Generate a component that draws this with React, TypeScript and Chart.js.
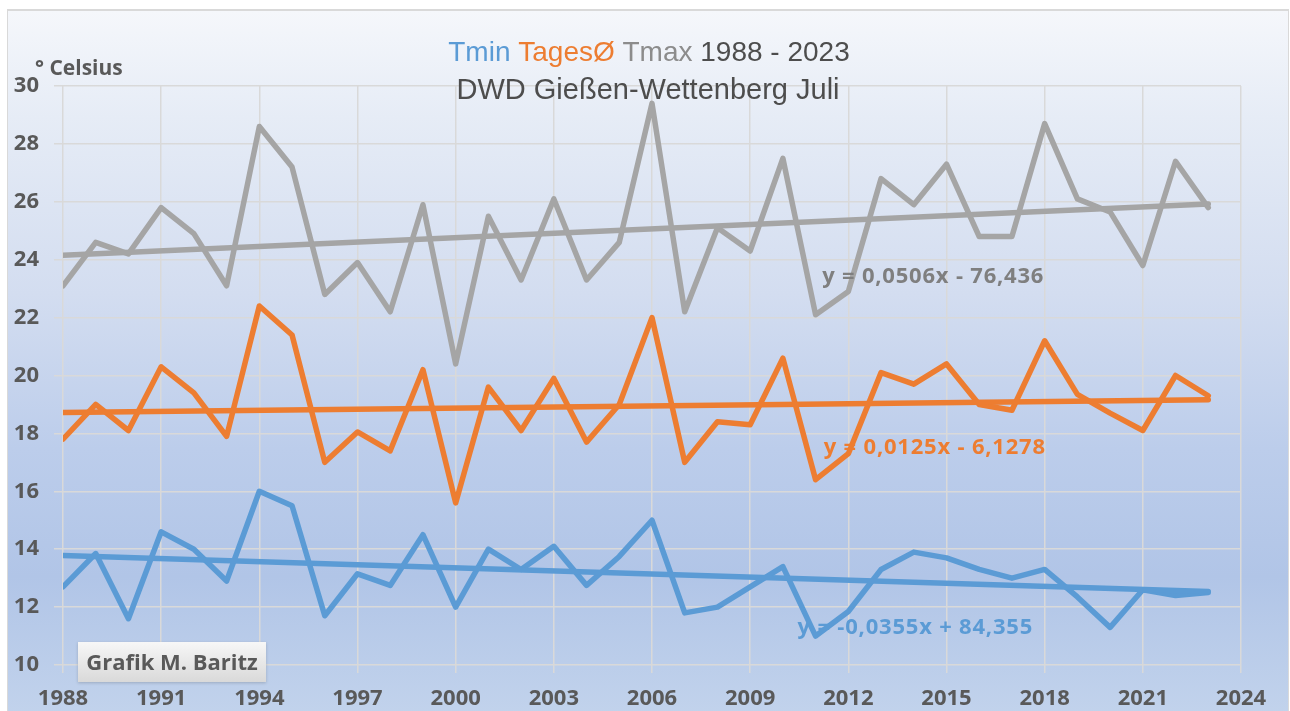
import React, { useEffect, useRef } from "react";
import { Chart, registerables } from "chart.js";

Chart.register(...registerables);

// ---- data ----
const years = [
  1988, 1989, 1990, 1991, 1992, 1993, 1994, 1995, 1996, 1997, 1998, 1999,
  2000, 2001, 2002, 2003, 2004, 2005, 2006, 2007, 2008, 2009, 2010, 2011,
  2012, 2013, 2014, 2015, 2016, 2017, 2018, 2019, 2020, 2021, 2022, 2023,
];
const tmax = [
  23.1, 24.6, 24.2, 25.8, 24.9, 23.1, 28.6, 27.2, 22.8, 23.9, 22.2, 25.9,
  20.4, 25.5, 23.3, 26.1, 23.3, 24.6, 29.4, 22.2, 25.1, 24.3, 27.5, 22.1,
  22.9, 26.8, 25.9, 27.3, 24.8, 24.8, 28.7, 26.1, 25.65, 23.8, 27.4, 25.8,
];
const tages = [
  17.8, 19.0, 18.1, 20.3, 19.4, 17.9, 22.4, 21.4, 17.0, 18.05, 17.4, 20.2,
  15.6, 19.6, 18.1, 19.9, 17.7, 19.0, 22.0, 17.0, 18.4, 18.3, 20.6, 16.4,
  17.3, 20.1, 19.7, 20.4, 19.0, 18.8, 21.2, 19.35, 18.7, 18.1, 20.0, 19.3,
];
const tmin = [
  12.7, 13.85, 11.6, 14.6, 14.0, 12.9, 16.0, 15.5, 11.7, 13.15, 12.75, 14.5,
  12.0, 14.0, 13.3, 14.1, 12.75, 13.75, 15.0, 11.8, 12.0, 12.7, 13.4, 11.0,
  11.85, 13.3, 13.9, 13.7, 13.3, 13.0, 13.3, 12.35, 11.3, 12.6, 12.4, 12.5,
];
// linear trend coefficients [slope, intercept] as printed in the chart
const trendTmax = [0.0506, -76.436];
const trendTages = [0.0125, -6.1278];
const trendTmin = [-0.0355, 84.355];
const trendLabels = [
  "y = 0,0506x - 76,436",
  "y = 0,0125x - 6,1278",
  "y = -0,0355x + 84,355",
];
const xTicks = [1988, 1991, 1994, 1997, 2000, 2003, 2006, 2009, 2012, 2015, 2018, 2021, 2024];
const yTicks = [10, 12, 14, 16, 18, 20, 22, 24, 26, 28, 30];
const titleWords = ["Tmin", "TagesØ", "Tmax", "1988 - 2023"];
const subtitle = "DWD Gießen-Wettenberg Juli";
const yAxisTitle = "° Celsius";
const credit = "Grafik M. Baritz";

const BLUE = "#5b9bd5";
const ORANGE = "#ed7d31";
const GRAY = "#a5a5a5";
const TEXT = "#595959";

const toPoints = (vals: number[]) => vals.map((v, i) => ({ x: years[i], y: v }));
const trendPoints = (c: number[]) => {
  const a = years[0];
  const b = years[years.length - 1];
  return [
    { x: a, y: c[0] * a + c[1] },
    { x: b, y: c[0] * b + c[1] },
  ];
};

const overlayPlugin = {
  id: "overlay",
  afterDraw(chart: any) {
    const ctx = chart.ctx as CanvasRenderingContext2D;
    const xs = chart.scales.x;
    const ys = chart.scales.y;
    ctx.save();

    // title line 1 (multi coloured)
    const titleColors = [BLUE, ORANGE, "#8c8c8c", "#4d4d4d"];
    ctx.font = '28px "Liberation Sans", Arial, sans-serif';
    ctx.textBaseline = "alphabetic";
    ctx.textAlign = "left";
    const sp = ctx.measureText(" ").width;
    const ws = titleWords.map((w) => ctx.measureText(w).width);
    const total = ws.reduce((a, b) => a + b, 0) + sp * (titleWords.length - 1);
    let x = 649 - total / 2;
    titleWords.forEach((w, i) => {
      ctx.fillStyle = titleColors[i];
      ctx.fillText(w, x, 61);
      x += ws[i] + sp;
    });
    // title line 2
    ctx.font = '29px "Liberation Sans", Arial, sans-serif';
    ctx.fillStyle = "#4d4d4d";
    ctx.textAlign = "center";
    ctx.fillText(subtitle, 648, 99);

    // y axis title
    ctx.font = 'bold 21px "Open Sans", sans-serif';
    ctx.textAlign = "left";
    ctx.fillStyle = TEXT;
    ctx.fillText(yAxisTitle, 35, 75);

    // trend equations
    const labelPos = [
      { x: 2011.2, y: 23.4, color: "#7f7f7f" },
      { x: 2011.25, y: 17.5, color: ORANGE },
      { x: 2010.45, y: 11.3, color: BLUE },
    ];
    ctx.font = 'bold 22px "Open Sans", sans-serif';
    (ctx as any).letterSpacing = "0.8px";
    ctx.textBaseline = "middle";
    trendLabels.forEach((t, i) => {
      const p = labelPos[i];
      ctx.fillStyle = p.color;
      ctx.fillText(t, xs.getPixelForValue(p.x), ys.getPixelForValue(p.y));
    });
    (ctx as any).letterSpacing = "0px";

    // credit box
    const bx = 78, by = 642, bw = 188, bh = 40;
    ctx.shadowColor = "rgba(0,0,0,0.18)";
    ctx.shadowBlur = 3;
    ctx.shadowOffsetY = 1;
    const g = ctx.createLinearGradient(0, by, 0, by + bh);
    g.addColorStop(0, "#f7f7f7");
    g.addColorStop(1, "#d9d9d9");
    ctx.fillStyle = g;
    ctx.fillRect(bx, by, bw, bh);
    ctx.shadowColor = "transparent";
    ctx.font = 'bold 22px "Open Sans", sans-serif';
    ctx.fillStyle = TEXT;
    ctx.textAlign = "center";
    ctx.textBaseline = "alphabetic";
    ctx.fillText(credit, bx + bw / 2, 670);

    ctx.restore();
  },
};

export default function App() {
  const ref = useRef<HTMLCanvasElement | null>(null);

  useEffect(() => {
    if (!ref.current) return;
    const lineDs = (label: string, data: any[], color: string) => ({
      label,
      data,
      borderColor: color,
      backgroundColor: color,
      borderWidth: 5.5,
      pointRadius: 0,
      tension: 0,
      fill: false,
      borderJoinStyle: "round" as const,
      borderCapStyle: "round" as const,
    });
    const tickFont = { family: '"Open Sans", sans-serif', size: 22, weight: "bold" as const };
    const chart = new Chart(ref.current, {
      type: "line",
      data: {
        datasets: [
          lineDs("Trend Tmax", trendPoints(trendTmax), GRAY),
          lineDs("Trend TagesØ", trendPoints(trendTages), ORANGE),
          lineDs("Trend Tmin", trendPoints(trendTmin), BLUE),
          lineDs("Tmax", toPoints(tmax), GRAY),
          lineDs("TagesØ", toPoints(tages), ORANGE),
          lineDs("Tmin", toPoints(tmin), BLUE),
        ],
      },
      options: {
        responsive: false,
        animation: false,
        devicePixelRatio: 1,
        layout: { padding: { top: 86, right: 49, left: 0, bottom: 0 } },
        plugins: {
          legend: { display: false },
          tooltip: { enabled: false },
          title: { display: false },
        },
        scales: {
          x: {
            type: "linear",
            min: xTicks[0],
            max: xTicks[xTicks.length - 1],
            afterBuildTicks: (s: any) => {
              s.ticks = xTicks.map((v) => ({ value: v }));
            },
            afterFit: (s: any) => {
              s.height = 46;
            },
            grid: { color: "#d9d9d9", lineWidth: 1.5, tickLength: 8, drawTicks: true },
            border: { display: false },
            ticks: {
              color: TEXT,
              font: tickFont,
              padding: 13,
              maxRotation: 0,
              autoSkip: false,
              callback: (v: any) => String(v),
            },
          },
          y: {
            type: "linear",
            min: yTicks[0],
            max: yTicks[yTicks.length - 1],
            afterBuildTicks: (s: any) => {
              s.ticks = yTicks.map((v) => ({ value: v }));
            },
            afterFit: (s: any) => {
              s.width = 63;
            },
            grid: { color: "#d9d9d9", lineWidth: 1.5, tickLength: 9, drawTicks: true },
            border: { display: false },
            ticks: {
              color: TEXT,
              font: tickFont,
              padding: 15,
              autoSkip: false,
              callback: (v: any) => String(v),
            },
          },
        },
      },
      plugins: [overlayPlugin],
    } as any);
    return () => chart.destroy();
  }, []);

  return (
    <div
      style={{
        position: "absolute",
        left: 0,
        top: 0,
        width: 1290,
        height: 711,
        overflow: "hidden",
        background: "#ffffff",
      }}
    >
      <div
        style={{
          position: "absolute",
          left: 7,
          top: 9,
          width: 1282,
          height: 710,
          boxSizing: "border-box",
          border: "1px solid #d9d9d9",
          borderTopWidth: 2,
          background:
            "linear-gradient(to bottom, #f5f7fb 0%, #e6ecf6 15%, #d3ddf0 40%, #bccdeb 62%, #b1c5e7 80%, #c2d3ec 100%)",
        }}
      />
      <canvas
        ref={ref}
        width={1290}
        height={711}
        style={{ position: "absolute", left: 0, top: 0 }}
      />
    </div>
  );
}
